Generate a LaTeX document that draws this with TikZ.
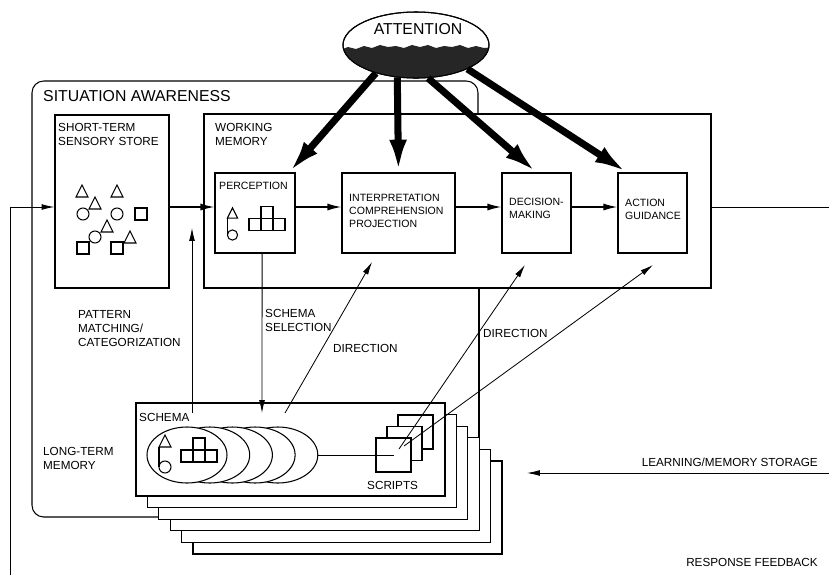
\documentclass[tikz,border=0pt]{standalone}
\usepackage{fontspec}
\setmainfont{Liberation Sans}
\usetikzlibrary{arrows.meta,shapes.geometric,fit}

\begin{document}
\begin{tikzpicture}[x=0.03cm,y=-0.03cm,
			box/.style={draw, line width=0.9pt, inner sep=0pt},
			lbl/.style={anchor=north west, inner sep=0pt, align=left, font=\fontsize{10}{12}\selectfont},
			boxlbl/.style={anchor=north west, inner sep=0pt, align=left, font=\fontsize{9}{11}\selectfont},
			biglbl/.style={inner sep=0pt, font=\fontsize{13.5}{16}\selectfont},
			flowarr/.style={-{Latex[length=12pt,width=6pt]}, line width=1.3pt},
			thinarr/.style={-{Latex[length=11pt,width=5pt]}, line width=0.7pt},
			attnarr/.style={-{Latex[length=28pt,width=15pt]}, line width=6pt},
			shtri/.pic={\draw[line width=0.9pt] (-6,6) -- (0,-6) -- (6,6) -- cycle;},
			shcirc/.pic={\draw[line width=0.9pt] (0,0) circle [radius=0.18cm];},
			shsq/.pic={\draw[line width=0.9pt] (-6,-6) rectangle (6,6);}]
			\useasboundingbox (0,0) rectangle (829,575);
			\coordinate (flow) at (0,207);
			%---------------- SITUATION AWARENESS ----------------
			\draw[line width=0.9pt, rounded corners=10pt] (158,517) -- (32,517) -- (32,81) -- (478,81) -- (478,114);
			\draw[line width=0.9pt] (479,288) -- (479,438);
			\node[biglbl, anchor=north west] (salbl) at (43,90) {SITUATION AWARENESS};
			%---------------- BOXES ----------------
			\node[box, fit={(55,115) (169,288)}] (stss) {};
			\node[box, fit={(204,114) (711,288)}] (wm) {};
			\node[box, fit={(215,173) (295,253)}] (perc) {};
			\node[box, fit={(342,173) (455,253)}] (interp) {};
			\node[box, fit={(502,173) (571,253)}] (dec) {};
			\node[box, fit={(618,173) (687,253)}] (act) {};
			\node[lbl] (stsslbl) at (58,123) {SHORT-TERM\\SENSORY STORE};
			\node[lbl] (wmlbl) at (215,123) {WORKING\\MEMORY};
			\node[boxlbl] (perclbl) at (219,182) {PERCEPTION};
			\node[boxlbl] (interplbl) at (349,194) {INTERPRETATION\\COMPREHENSION\\PROJECTION};
			\node[boxlbl] (declbl) at (509,198) {DECISION-\\MAKING};
			\node[boxlbl] (actlbl) at (625,199) {ACTION\\GUIDANCE};
			% sensory store shapes
			\pic at (82,191) {shtri};
			\pic at (117,191) {shtri};
			\pic at (95,203) {shtri};
			\pic at (83,214) {shcirc};
			\pic at (117,214) {shcirc};
			\pic at (141,214) {shsq};
			\pic at (107,226) {shtri};
			\pic at (95,237) {shcirc};
			\pic at (130,237) {shtri};
			\pic at (83,248) {shsq};
			\pic at (117,248) {shsq};
			% perception shapes
			\pic[scale=0.85] at (232.5,213) {shtri};
			\pic[scale=0.85] at (232.5,235) {shcirc};
			\draw[line width=0.9pt] (227.5,218) -- (227.5,235);
			\pic at (255,224.5) {shsq};
			\pic at (267,224.5) {shsq};
			\pic at (279,224.5) {shsq};
			\pic at (267,212.5) {shsq};
			%---------------- FLOW ----------------
			\draw[flowarr] (stss.east |- flow) -- (perc.west |- flow);
			\draw[flowarr] (perc.east |- flow) -- (interp.west |- flow);
			\draw[flowarr] (interp.east |- flow) -- (dec.west |- flow);
			\draw[flowarr] (dec.east |- flow) -- (act.west |- flow);
			\coordinate (outR) at (829,207);
			\draw[line width=0.8pt] (wm.east |- flow) -- (outR);
			\coordinate (fbB) at (10,575);
			\draw[thinarr, line width=0.8pt] (fbB) |- (stss.west |- flow);
			%---------------- ATTENTION ----------------
			\node[draw, ellipse, fill=white, line width=0.9pt, minimum width=4.38cm, minimum height=1.98cm, inner sep=0pt] (attn) at (416,45) {};
			\begin{scope}
				\clip (416,45) ellipse [x radius=2.19cm, y radius=0.99cm];
				\fill[black!85] (340,50) -- (348,47) -- (356,49) -- (364,46) -- (372,48) -- (380,45) -- (388,47) -- (396,46) -- (404,48) -- (412,45) -- (420,47) -- (428,45) -- (436,48) -- (444,46) -- (452,47) -- (460,45) -- (468,48) -- (476,46) -- (484,48) -- (495,47) -- (495,90) -- (340,90) -- cycle;
			\end{scope}
			\draw[line width=0.9pt] (attn.center) ellipse [x radius=2.19cm, y radius=0.99cm];
			\node[biglbl] (attnlbl) at (418,29) {ATTENTION};
			\draw[attnarr] (attn.215) -- (perc.50);
			\draw[attnarr] (attn.240) -- (interp.north);
			\draw[attnarr] (attn.290) -- (dec.north);
			\draw[attnarr] (attn.335) -- (act.122);
			%---------------- LONG-TERM MEMORY ----------------
			\foreach \k in {5,4,...,0}
				\node[box, fill=white, fit={(136+11.4*\k,403+11.6*\k) (445+11.4*\k,496+11.6*\k)}] (lt\k) {};
			\node[lbl] (schlbl) at (139,413) {SCHEMA};
			\node[lbl] (ltlbl) at (43,447) {LONG-TERM\\MEMORY};
			\foreach \k in {4,...,0}
				\node[draw, ellipse, fill=white, line width=0.9pt, minimum width=2.4cm, minimum height=1.68cm, inner sep=0pt] (sch\k) at (187+22.7*\k,455) {};
			\pic at (165,441) {shtri};
			\pic at (165,467) {shcirc};
			\draw[line width=0.9pt] (159,447) -- (159,467);
			\pic at (187,456) {shsq};
			\pic at (199,456) {shsq};
			\pic at (211,456) {shsq};
			\pic at (199,444) {shsq};
			% scripts
			\foreach \k in {2,1,0}
				\node[box, fill=white, fit={(376+11*\k,438-11.5*\k) (411+11*\k,472-11.5*\k)}] (scr\k) {};
			\node[lbl] (scrlbl) at (367,481) {SCRIPTS};
			\draw[line width=0.7pt] (sch4.east) -- (scr0.center);
			%---------------- CONNECTORS ----------------
			\coordinate (patA) at (192,413);
			\coordinate (patB) at (192,228);
			\draw[thinarr] (patA) -- (patB);
			\node[lbl] (patlbl) at (78,310) {PATTERN\\MATCHING/\\CATEGORIZATION};
			\coordinate (selB) at (262,413);
			\draw[thinarr] (perc.280) -- (selB);
			\node[lbl] (sellbl) at (265,309) {SCHEMA\\SELECTION};
			\coordinate (dirA) at (285,413);
			\coordinate (dirB) at (372,262);
			\draw[thinarr] (dirA) -- (dirB);
			\node[lbl] (dirlbl) at (333,344) {DIRECTION};
			\coordinate (sdA) at (399,449);
			\coordinate (sdB) at (525,265);
			\coordinate (saA) at (404,446);
			\coordinate (saB) at (653,265);
			\draw[thinarr] (sdA) -- (sdB);
			\draw[thinarr] (saA) -- (saB);
			\node[lbl] (dirlblb) at (483,329) {DIRECTION};
			\coordinate (lmR) at (829,473);
			\coordinate (lmL) at (527,473);
			\draw[thinarr] (lmR) -- (lmL);
			\node[lbl, anchor=north east] (lmlbl) at (818,458) {LEARNING/MEMORY STORAGE};
			\node[lbl, anchor=north east] (rflbl) at (818,558) {RESPONSE FEEDBACK};
		\end{tikzpicture}
\end{document}
